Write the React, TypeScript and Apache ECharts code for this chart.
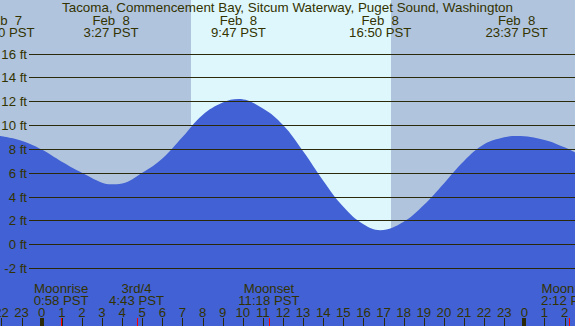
import React, { useEffect, useRef } from "react";
import * as echarts from "echarts";

const TITLE = "Tacoma, Commencement Bay, Sitcum Waterway, Puget Sound, Washington";

// axis extents (hours relative to Feb 8 00:00 PST, feet)
const X_MIN = -2.0736;
const X_MAX = 26.519;
const Y_MIN = -6.88;
const Y_MAX = 20.51;

// tide curve
const tideHours = [-2.0736, -1, 0, 1, 2, 3, 3.45, 4, 5, 6, 7, 8, 9, 9.783, 11, 12, 13, 14, 15, 16, 16.833, 18, 19, 20, 21, 22, 23, 23.617, 25, 26, 26.519];
const tideHeights = [9.08, 8.69, 7.95, 6.93, 6.0, 5.16, 5.02, 5.1, 6.0, 7.2, 9.0, 10.85, 11.9, 12.2, 11.4, 10.0, 7.8, 5.33, 3.14, 1.66, 1.17, 1.88, 3.28, 5.1, 6.98, 8.38, 8.97, 9.08, 8.75, 8.13, 7.7];

// tide extremes
const extremeTimes = [-1.9, 3.45, 9.783, 16.833, 23.617];
const extremeDates = ["Feb  7", "Feb  8", "Feb  8", "Feb  8", "Feb  8"];
const extremeClock = ["22:00 PST", "3:27 PST", "9:47 PST", "16:50 PST", "23:37 PST"];

// moon events
const moonTimes = [0.967, 4.717, 11.3, 26.2];
const moonNames = ["Moonrise", "3rd/4", "Moonset", "Moonrise"];
const moonClock = ["0:58 PST", "4:43 PST", "11:18 PST", "2:12 PST"];

// sun
const bandStarts = [X_MIN, 7.417, 17.367];
const bandEnds = [7.417, 17.367, X_MAX];
const bandKinds = ["night", "day", "night"];

// ticks
const hourTicks = [-2, -1, 0, 1, 2, 3, 4, 5, 6, 7, 8, 9, 10, 11, 12, 13, 14, 15, 16, 17, 18, 19, 20, 21, 22, 23, 24, 25, 26];
const hourLabels = ["22", "23", "0", "1", "2", "3", "4", "5", "6", "7", "8", "9", "10", "11", "12", "13", "14", "15", "16", "17", "18", "19", "20", "21", "22", "23", "0", "1", "2"];
const depthTicks = [-2, 0, 2, 4, 6, 8, 10, 12, 14, 16];
const depthLabels = ["-2 ft", "0 ft", "2 ft", "4 ft", "6 ft", "8 ft", "10 ft", "12 ft", "14 ft", "16 ft"];

const NIGHT = "#b0c4de";
const DAY = "#def7fd";
const WATER = "#4161d5";
const INK = "#333300";
const LINE = "#2a2a0a";
const FAMILY = "'Liberation Sans', Arial, sans-serif";
const FONT = "13.2px " + FAMILY;

function txt(text: string, x: number, y: number, align = "center") {
  return {
    type: "text",
    style: {
      text,
      x,
      y,
      fill: INK,
      font: FONT,
      align,
      verticalAlign: "middle",
      textAlign: align,
      textVerticalAlign: "middle",
    },
  };
}

export default function App() {
  const ref = useRef<HTMLDivElement>(null);
  useEffect(() => {
    if (!ref.current) return;
    const chart = echarts.init(ref.current, undefined, { renderer: "svg" });
    const W = 575;
    chart.setOption({
      animation: false,
      title: {
        text: TITLE,
        left: "center",
        top: 1,
        padding: 0,
        textStyle: { fontSize: 13.4, fontWeight: "normal", color: INK, fontFamily: FAMILY },
      },
      grid: { left: 0, right: 0, top: 0, bottom: 0, containLabel: false },
      xAxis: { type: "value", min: X_MIN, max: X_MAX, show: false },
      yAxis: { type: "value", min: Y_MIN, max: Y_MAX, show: false },
      series: [
        {
          type: "custom",
          z: 0,
          clip: false,
          data: bandStarts.map((s, i) => [s, bandEnds[i]]),
          renderItem: (params: any, api: any) => {
            const i = params.dataIndex;
            const p0 = api.coord([bandStarts[i], Y_MAX]);
            const p1 = api.coord([bandEnds[i], Y_MIN]);
            return {
              type: "rect",
              shape: { x: Math.round(p0[0]), y: p0[1], width: Math.round(p1[0]) - Math.round(p0[0]), height: p1[1] - p0[1] },
              style: { fill: bandKinds[i] === "day" ? DAY : NIGHT },
            };
          },
        },
        {
          type: "line",
          z: 2,
          data: tideHours.map((h, i) => [h, tideHeights[i]]),
          smooth: 0.4,
          symbol: "none",
          lineStyle: { width: 0, opacity: 0 },
          areaStyle: { color: WATER, opacity: 1, origin: "start" },
        },
        {
          type: "custom",
          z: 3,
          clip: false,
          data: depthTicks.map((v) => [0, v]),
          renderItem: (params: any, api: any) => {
            const i = params.dataIndex;
            const y = Math.round(api.coord([0, depthTicks[i]])[1]) + 0.5;
            return {
              type: "group",
              children: [
                { type: "line", shape: { x1: 29, y1: y, x2: W, y2: y }, style: { stroke: LINE, lineWidth: 1 } },
                txt(depthLabels[i], 27, y, "right"),
              ],
            };
          },
        },
        {
          type: "custom",
          z: 4,
          clip: false,
          data: extremeTimes.map((t) => [t, 0]),
          renderItem: (params: any, api: any) => {
            const i = params.dataIndex;
            const x = api.coord([extremeTimes[i], 0])[0];
            return {
              type: "group",
              children: [txt(extremeDates[i], x, 20), txt(extremeClock[i], x, 32)],
            };
          },
        },
        {
          type: "custom",
          z: 4,
          clip: false,
          data: hourTicks.map((h) => [h, 0]),
          renderItem: (params: any, api: any) => {
            const i = params.dataIndex;
            const xr = api.coord([hourTicks[i], 0])[0];
            const midnight = hourTicks[i] % 24 === 0;
            const x = midnight ? Math.round(xr) : Math.round(xr) + 0.5;
            return {
              type: "group",
              children: [
                { type: "line", shape: { x1: x, y1: 318, x2: x, y2: 326 }, style: { stroke: LINE, lineWidth: midnight ? 4 : 1 } },
                txt(hourLabels[i], xr, 312),
              ],
            };
          },
        },
        {
          type: "custom",
          z: 5,
          clip: false,
          data: moonTimes.map((t) => [t, 0]),
          renderItem: (params: any, api: any) => {
            const i = params.dataIndex;
            const xr = api.coord([moonTimes[i], 0])[0];
            const x = Math.round(xr) + 0.5;
            return {
              type: "group",
              children: [
                { type: "line", shape: { x1: x, y1: 318, x2: x, y2: 326 }, style: { stroke: "#ff0000", lineWidth: 1 } },
                txt(moonNames[i], xr, 288),
                txt(moonClock[i], xr, 300),
              ],
            };
          },
        },
      ],
    });
    return () => chart.dispose();
  }, []);
  return <div ref={ref} style={{ position: "absolute", left: 0, top: 0, width: 575, height: 326 }} />;
}
